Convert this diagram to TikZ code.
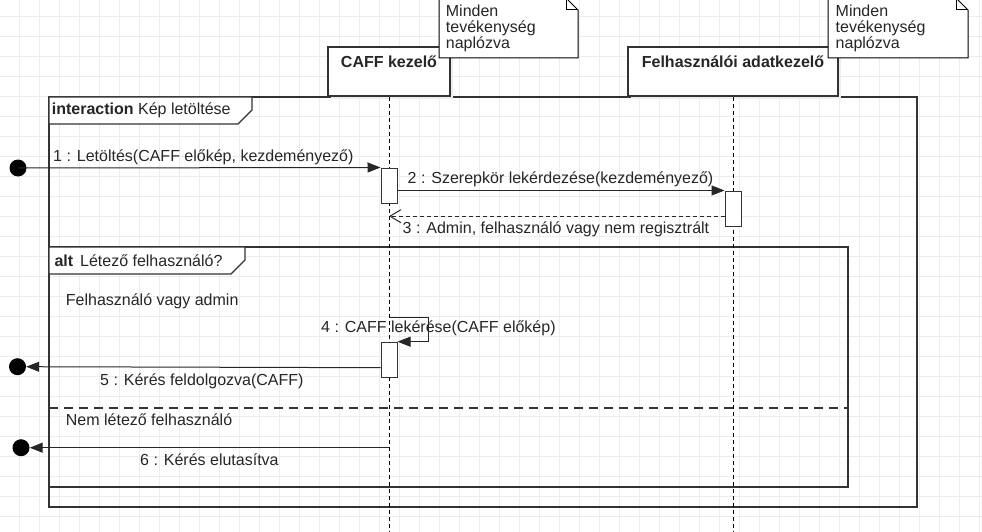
\documentclass[tikz,border=0pt]{standalone}
\usepackage{fontspec}
\setmainfont{Liberation Sans}
\usetikzlibrary{arrows.meta}
\begin{document}
\begin{tikzpicture}[x=1pt,y=-1pt,
  gridline/.style={draw=black!7, line width=0.8pt},
  frame/.style={draw=black!80, line width=1.2pt},
  lbl/.style={inner sep=0pt, text=black!85, font=\fontsize{16}{16}\selectfont},
  lifebox/.style={draw=black!80, line width=1.2pt, fill=white, inner sep=0pt},
  shadowbox/.style={fill=black!7},
  act/.style={draw=black!80, line width=1pt, fill=white, minimum width=16pt, minimum height=35pt, inner sep=0pt},
  lifeline/.style={draw=black, line width=1pt, dash pattern=on 4pt off 3pt},
  dot/.style={circle, fill=black, minimum size=17pt, inner sep=0pt},
  msg/.style={draw=black!85, line width=1pt, -{Triangle[length=13pt,width=10pt]}},
  ret/.style={draw=black!85, line width=1pt, dash pattern=on 4pt off 3pt, -{Straight Barb[length=11pt,width=13pt]}},
  notebox/.style={draw=black, line width=1pt, fill=white}
]
\useasboundingbox (0,0) rectangle (982,532);
% grid
\foreach \gx in {0,...,48} \draw[gridline] ({19.5+20*\gx},0) -- ({19.5+20*\gx},532);
\foreach \gy in {0,...,25} \draw[gridline] (0,{16.7+20*\gy}) -- (982,{16.7+20*\gy});

% interaction frame
\draw[frame] (49,97) rectangle (917,507);
\draw[frame,fill=white] (49,97) -- (252,97) -- (252,110) -- (238,124) -- (49,124) -- cycle;
\node[lbl,anchor=base west] (ilbl) at (51.7,115) {\textbf{interaction} Kép letöltése};

% alt frame
\draw[frame] (49,247) rectangle (848,487);
\draw[frame,fill=white] (49,247) -- (245,247) -- (245,260) -- (231,274) -- (49,274) -- cycle;
\node[lbl,anchor=base west] (albl) at (54.3,266) {\textbf{alt}\hspace{2.5pt} Létező felhasználó?};
\draw[frame,dash pattern=on 9pt off 6pt] (49,408) -- (848,408);
\node[lbl,anchor=base west] (g1) at (65.7,305.7) {Felhasználó vagy admin};
\node[lbl,anchor=base west] (g2) at (65.7,425.7) {Nem létező felhasználó};

% lifeline heads
\fill[shadowbox] (331,50) rectangle (453,99);
\node[lifebox, minimum width=122pt, minimum height=49pt] (box1) at (389,71.5) {};
\node[lbl, font=\fontsize{16}{16}\selectfont\bfseries, anchor=base] (t1) at (389,67.7) {CAFF kezelő};
\fill[shadowbox] (631,50) rectangle (841,99);
\node[lifebox, minimum width=210pt, minimum height=49pt] (box2) at (733,71.5) {};
\node[lbl, font=\fontsize{16}{16}\selectfont\bfseries, anchor=base] (t2) at (733,67.7) {Felhasználói adatkezelő};

% lifelines
\coordinate (e1) at (389,532);
\coordinate (e2) at (733,532);
\draw[lifeline] (box1.south) -- (e1);
\draw[lifeline] (box2.south) -- (e2);

% notes
\draw[notebox] (439,-2) -- (566,-2) -- (578,10) -- (578,58) -- (439,58) -- cycle;
\draw[draw=black, line width=1pt] (566,-2) -- (566,10) -- (578,10);
\node[lbl, anchor=north west, align=left] (n1) at (445.7,4.3) {Minden\\tevékenység\\naplózva};
\draw[notebox] (828,-2) -- (956,-2) -- (968,10) -- (968,58) -- (828,58) -- cycle;
\draw[draw=black, line width=1pt] (956,-2) -- (956,10) -- (968,10);
\node[lbl, anchor=north west, align=left] (n2) at (835.5,4.3) {Minden\\tevékenység\\naplózva};

% activations
\node[act] (act1) at (389,185.5) {};
\node[act] (act2) at (733,208.5) {};
\node[act] (act4) at (389,359.7) {};

% end points
\node[dot] (c1) at (18,168) {};
\node[dot] (c5) at (17.5,366.7) {};
\node[dot] (c6) at (21,447.7) {};
\coordinate (s4) at (389,317);
\coordinate (s6) at (389,447.7);

% messages
\draw[msg] (c1.center) -- (act1.north west);
\node[lbl,anchor=base west] (l1) at (53,161) {1 : Letöltés(CAFF előkép, kezdeményező)};
\draw[msg] (act1.east |- act2.north) -- (act2.north west);
\node[lbl,anchor=base west] (l2) at (407.5,183) {2 : Szerepkör lekérdezése(kezdeményező)};
\coordinate (r3) at ([yshift=10.3pt]act2.south west);
\draw[ret] (r3) -- (r3 -| box1.south);
\node[lbl,anchor=base west] (l3) at (402.5,233) {3 : Admin, felhasználó vagy nem regisztrált};
\draw[msg] (s4) -- ++(39,0) |- (act4.north east);
\node[lbl,anchor=base west] (l4) at (321,332.7) {4 : CAFF lekérése(CAFF előkép)};
\draw[msg] ([yshift=10pt]act4.south west) -- (c5.east);
\node[lbl,anchor=base west] (l5) at (100,385) {5 : Kérés feldolgozva(CAFF)};
\draw[msg] (s6) -- (c6.east);
\node[lbl,anchor=base west] (l6) at (140,465) {6 : Kérés elutasítva};
\end{tikzpicture}
\end{document}
